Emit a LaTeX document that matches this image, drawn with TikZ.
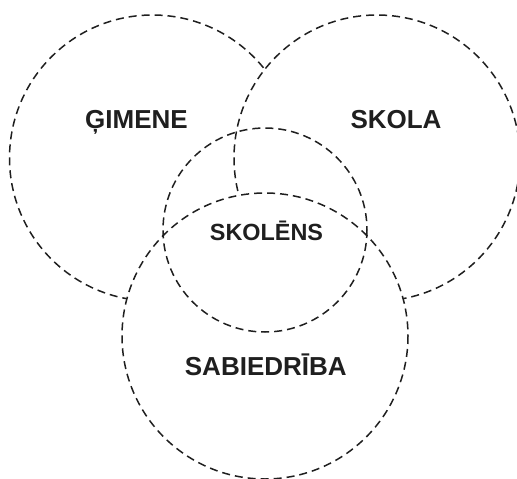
\documentclass[tikz,border=0pt]{standalone}
\usepackage{fontspec}
\setmainfont{Liberation Sans}
\begin{document}
\begin{tikzpicture}[x=1pt,y=-1pt,
  ring/.style={draw=black!88, line width=1.5pt, dash pattern=on 8pt off 5pt},
  bigtext/.style={anchor=base, inner sep=0pt, font=\fontsize{26}{30}\selectfont\bfseries, text=black!88},
  smalltext/.style={anchor=base, inner sep=0pt, font=\fontsize{23.4}{28}\selectfont\bfseries, text=black!88}]
\useasboundingbox (0,0) rectangle (517,479);
\clip (0,0) rectangle (517,479);
\fill[white] (0,0) rectangle (517,479);
\coordinate (cg) at (152.5,158);
\coordinate (cs) at (377,158);
\coordinate (cb) at (265,336);
\coordinate (cm) at (265,230);
\draw[ring, fill=white] (cg) circle[radius=143];
\draw[ring, fill=white] (cs) circle[radius=143];
\draw[ring, fill=white] (cb) circle[radius=143];
\draw[ring] (cm) circle[radius=102];
\node[bigtext] (gimene) at (136.5,128) {ĢIMENE};
\node[bigtext] (skola) at (396,128) {SKOLA};
\node[smalltext] (skolens) at (266.5,240) {SKOLĒNS};
\node[bigtext] (sabiedriba) at (265.8,375) {SABIEDRĪBA};
\end{tikzpicture}
\end{document}
